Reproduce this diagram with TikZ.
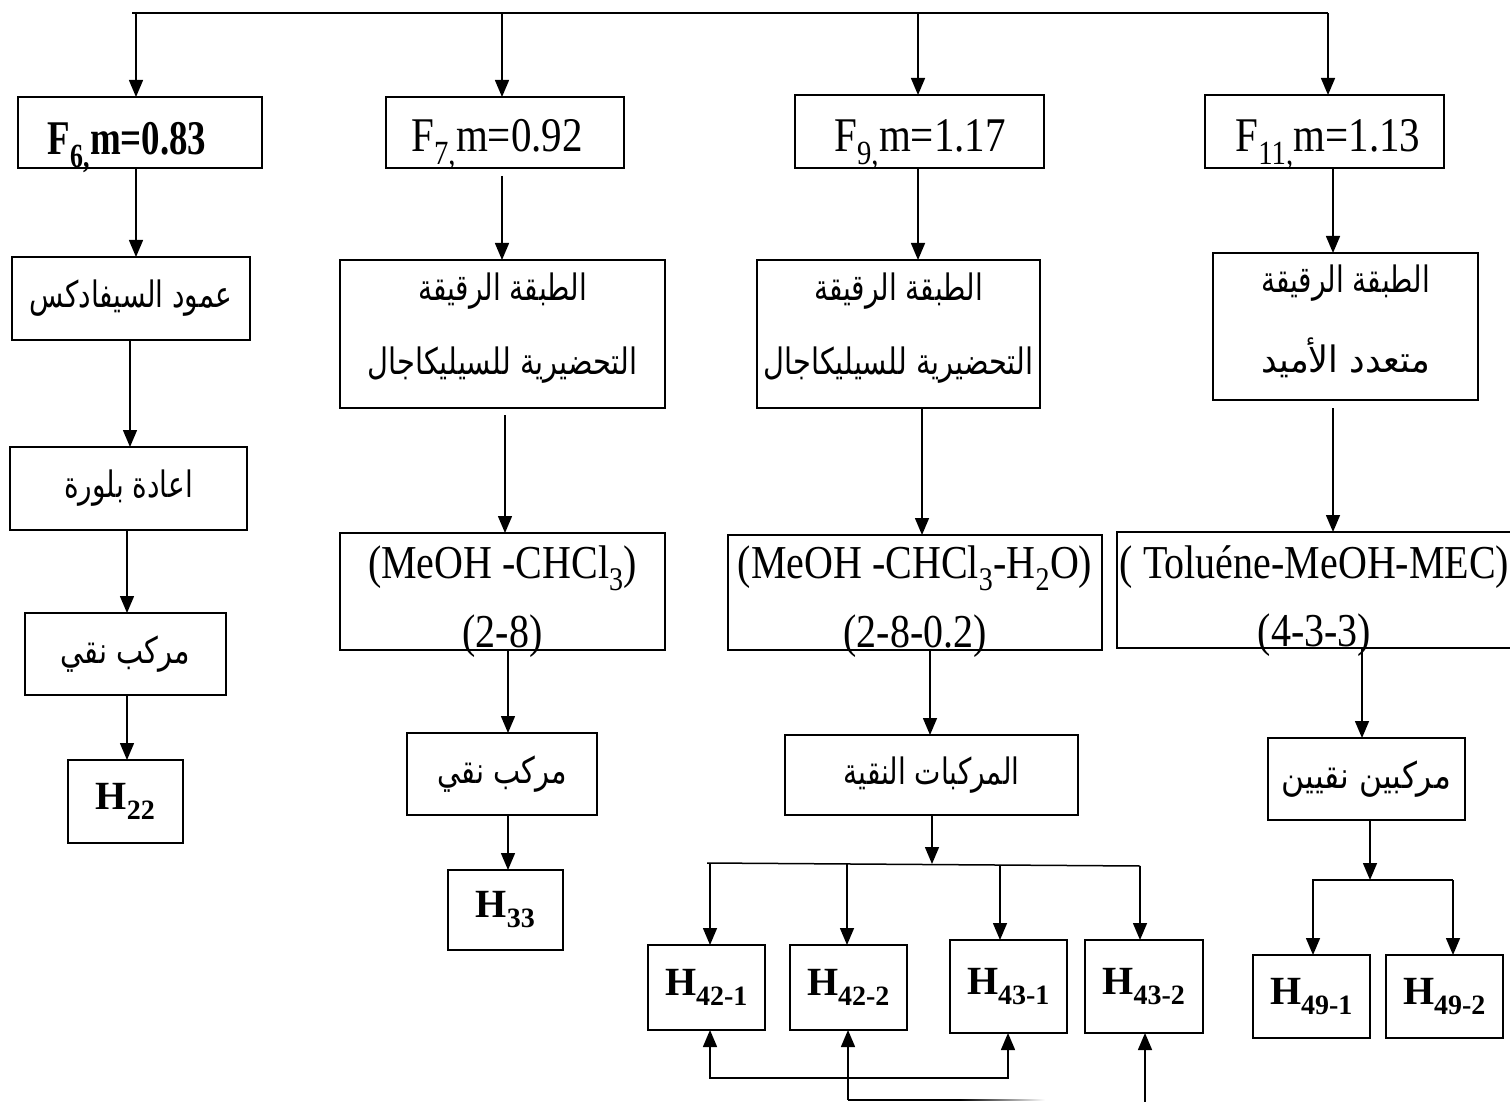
\documentclass[tikz,border=0pt]{standalone}
\usepackage{fontspec}
\usepackage{graphicx}
\setmainfont{Liberation Serif}
\newfontfamily\arabicfont[Script=Arabic]{DejaVu Sans}
\TeXXeTstate=1
\usetikzlibrary{arrows.meta}
\newcommand{\artxt}[2][1]{\scalebox{#1}[1.3]{\arabicfont\fontsize{28}{34}\selectfont\beginR #2\endR}}
\newcommand{\ltxt}[2][1]{\scalebox{#1}[1.18]{#2}}
\begin{document}
\begin{tikzpicture}[x=1pt,y=-1pt,
  box/.style={draw, line width=1.6pt, inner sep=0pt, outer sep=0pt, anchor=north west, align=center},
  txt/.style={inner sep=0pt, outer sep=0pt, anchor=center},
  btxt/.style={inner sep=0pt, outer sep=0pt, anchor=base},
  arr/.style={line width=1.5pt, -{Triangle[length=17pt,width=14pt]}},
  biarr/.style={line width=1.5pt, {Triangle[length=17pt,width=14pt]}-{Triangle[length=17pt,width=14pt]}},
  ln/.style={line width=1.5pt},
  lat/.style={font=\fontsize{40}{48}\selectfont},
  flat/.style={font=\fontsize{41}{49}\selectfont},
  hb/.style={font=\fontsize{40}{48}\selectfont\bfseries}]
\useasboundingbox (0,0) rectangle (1510,1102);

% top bus
\coordinate (tl) at (132,13);
\coordinate (tr) at (1328,13);
\draw[ln] (tl) -- (tr);

% row 1
\node[box, minimum width=244pt, minimum height=71pt] (f6) at (18,97) {};
\node[btxt, flat] (f6t) at (127,155) {\ltxt[0.9]{\textbf{F\textsubscript{6,}m=0.83}}};
\node[box, minimum width=238pt, minimum height=71pt] (f7) at (386,97) {};
\node[btxt, flat] (f7t) at (497,152) {\ltxt{F\textsubscript{7,}m=0.92}};
\node[box, minimum width=249pt, minimum height=73pt] (f9) at (795,95) {};
\node[btxt, flat] (f9t) at (920,152) {\ltxt{F\textsubscript{9,}m=1.17}};
\node[box, minimum width=239pt, minimum height=73pt] (f11) at (1205,95) {};
\node[btxt, flat] (f11t) at (1328,152) {\ltxt{F\textsubscript{11,}m=1.13}};

% column 1
\node[box, minimum width=238pt, minimum height=83pt] (c1a) at (12,257) {\artxt{عمود السيفادكس}};
\node[box, minimum width=237pt, minimum height=83pt] (c1b) at (10,447) {\artxt{اعادة بلورة}};
\node[box, minimum width=201pt, minimum height=82pt] (c1c) at (25,613) {\artxt[1.03]{مركب نقي}};
\node[box, hb, minimum width=115pt, minimum height=83pt] (h22) at (68,760) {H\textsubscript{22}};

% column 2
\node[box, minimum width=325pt, minimum height=148pt] (c2a) at (340,260) {};
\node[txt] (c2a1) at ([yshift=-31pt]c2a.north) {\artxt{الطبقة الرقيقة}};
\node[txt] (c2a2) at ([yshift=-105pt]c2a.north) {\artxt[1.03]{التحضيرية للسيليكاجال}};
\node[box, minimum width=325pt, minimum height=117pt] (c2b) at (340,533) {};
\node[txt, lat] (c2b1) at ([yshift=-35pt]c2b.north) {\ltxt{(MeOH -CHCl\textsubscript{3})}};
\node[txt, lat] (c2b2) at ([yshift=-103pt]c2b.north) {\ltxt{(2-8)}};
\node[box, minimum width=190pt, minimum height=82pt] (c2c) at (407,733) {\artxt[1.03]{مركب نقي}};
\node[box, hb, minimum width=115pt, minimum height=80pt] (h33) at (448,870) {H\textsubscript{33}};

% column 3
\node[box, minimum width=283pt, minimum height=148pt] (c3a) at (757,260) {};
\node[txt] (c3a1) at ([yshift=-31pt]c3a.north) {\artxt{الطبقة الرقيقة}};
\node[txt] (c3a2) at ([yshift=-105pt]c3a.north) {\artxt[1.03]{التحضيرية للسيليكاجال}};
\node[box, minimum width=374pt, minimum height=115pt] (c3b) at (728,535) {};
\node[txt, lat] (c3b1) at ([yshift=-33pt]c3b.north) {\ltxt{(MeOH -CHCl\textsubscript{3}-H\textsubscript{2}O)}};
\node[txt, lat] (c3b2) at ([yshift=-101pt]c3b.north) {\ltxt{(2-8-0.2)}};
\node[box, minimum width=293pt, minimum height=80pt] (c3c) at (785,735) {\artxt{المركبات النقية}};
\node[box, hb, minimum width=117pt, minimum height=85pt] (h421) at (648,945) {H\textsubscript{42-1}};
\node[box, hb, minimum width=117pt, minimum height=85pt] (h422) at (790,945) {H\textsubscript{42-2}};
\node[box, hb, minimum width=117pt, minimum height=93pt] (h431) at (950,940) {H\textsubscript{43-1}};
\node[box, hb, minimum width=118pt, minimum height=93pt] (h432) at (1085,940) {H\textsubscript{43-2}};

% column 4
\node[box, minimum width=265pt, minimum height=147pt] (c4a) at (1213,253) {};
\node[txt] (c4a1) at ([yshift=-30pt]c4a.north) {\artxt{الطبقة الرقيقة}};
\node[txt] (c4a2) at ([yshift=-105pt]c4a.north) {\artxt[1.25]{متعدد الأميد}};
\node[box, minimum width=395pt, minimum height=116pt] (c4b) at (1117,532) {};
\node[txt, lat] (c4b1) at ([yshift=-35pt]c4b.north) {\ltxt{( Toluéne-MeOH-MEC)}};
\node[txt, lat] (c4b2) at ([yshift=-103pt]c4b.north) {\ltxt{(4-3-3)}};
\node[box, minimum width=197pt, minimum height=82pt] (c4c) at (1268,738) {\artxt[1.12]{مركبين نقيين}};
\node[box, hb, minimum width=117pt, minimum height=83pt] (h491) at (1253,955) {H\textsubscript{49-1}};
\node[box, hb, minimum width=117pt, minimum height=83pt] (h492) at (1386,955) {H\textsubscript{49-2}};

% arrows from top bus
\draw[arr] (tl -| 136,0) -- (f6.north -| 136,0);
\draw[arr] (tl -| 502,0) -- (f7.north -| 502,0);
\draw[arr] (tl -| 918,0) -- (f9.north -| 918,0);
\draw[arr] (tr) -- (f11.north -| tr);

% column 1 arrows
\draw[arr] (f6.south -| 136,0) -- (c1a.north -| 136,0);
\draw[arr] (c1a.south -| 130,0) -- (c1b.north -| 130,0);
\draw[arr] (c1b.south -| 127,0) -- (c1c.north -| 127,0);
\draw[arr] (c1c.south -| 127,0) -- (h22.north -| 127,0);

% column 2 arrows
\draw[arr] ([yshift=-8pt]f7.south -| 502,0) -- (c2a.north -| 502,0);
\draw[arr] ([yshift=-7pt]c2a.south -| 505,0) -- (c2b.north -| 505,0);
\draw[arr] (c2b.south -| 508,0) -- (c2c.north -| 508,0);
\draw[arr] (c2c.south -| 508,0) -- (h33.north -| 508,0);

% column 3 arrows
\draw[arr] (f9.south -| 918,0) -- (c3a.north -| 918,0);
\draw[arr] (c3a.south -| 922,0) -- (c3b.north -| 922,0);
\draw[arr] (c3b.south -| 930,0) -- (c3c.north -| 930,0);
\coordinate (b3l) at (707,863);
\coordinate (b3r) at (1140,866);
\coordinate (b3m) at (932,864);
\draw[arr] (c3c.south -| b3m) -- (b3m);
\draw[ln] (b3l) -- (b3r);
\draw[arr] (710,863) -- (h421.north -| 710,0);
\draw[arr] (847,864) -- (h422.north -| 847,0);
\draw[arr] (1000,865) -- (h431.north -| 1000,0);
\draw[arr] (b3r) -- (h432.north -| b3r);

% bottom connectors
\coordinate (lowA) at (710,1078);
\coordinate (lowB) at (1008,1078);
\draw[biarr] (h421.south -| lowA) -- (lowA) -- (lowB) -- (h431.south -| lowB);
\coordinate (lowC) at (848,1100);
\coordinate (lowD) at (960,1100);
\draw[arr] (lowC) -- (h422.south -| lowC);
\draw[ln] (lowC) -- (lowD);
\shade[left color=black, right color=white] (960,1099.25) rectangle (1045,1100.75);
\coordinate (lowF) at (1145,1110);
\draw[arr] (lowF) -- (h432.south -| lowF);

% column 4 arrows
\draw[arr] (f11.south -| 1333,0) -- (c4a.north -| 1333,0);
\draw[arr] ([yshift=-8pt]c4a.south -| 1333,0) -- (c4b.north -| 1333,0);
\draw[arr] (c4b.south -| 1362,0) -- (c4c.north -| 1362,0);
\coordinate (b4l) at (1312,880);
\coordinate (b4r) at (1453,880);
\coordinate (b4m) at (1370,880);
\draw[arr] (c4c.south -| b4m) -- (b4m);
\draw[ln] (b4l) -- (b4r);
\draw[arr] (1313,880) -- (h491.north -| 1313,0);
\draw[arr] (b4r) -- (h492.north -| b4r);
\end{tikzpicture}
\end{document}
